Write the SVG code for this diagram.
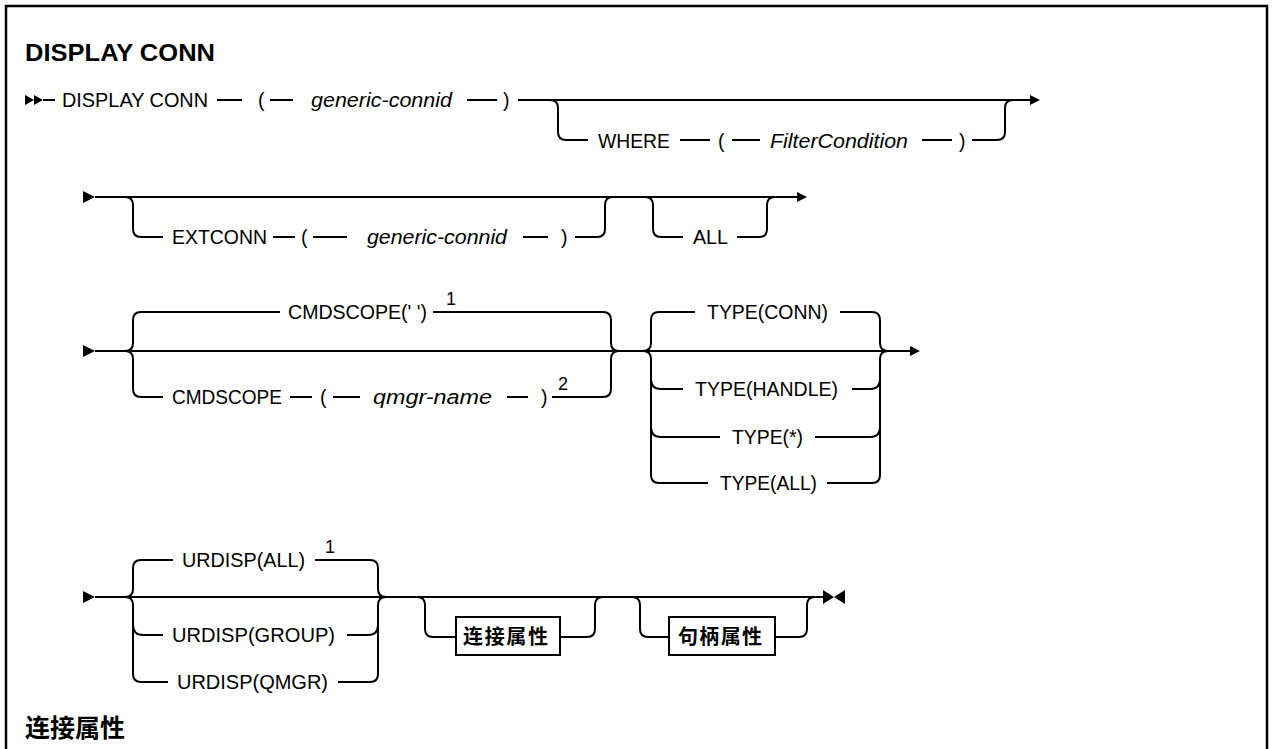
<svg xmlns="http://www.w3.org/2000/svg" width="1274" height="749" viewBox="0 0 1274 749">
<style>
.t{font-family:"Liberation Sans",Arial,sans-serif;font-size:19.5px;fill:#000}
.i{font-family:"Liberation Sans",Arial,sans-serif;font-size:19.5px;font-style:italic;fill:#000}
.fn{font-family:"Liberation Sans",Arial,sans-serif;font-size:18px;fill:#000}
.h{font-family:"Liberation Sans",Arial,sans-serif;font-size:24.5px;font-weight:bold;fill:#000}
.cj{font-family:"Noto Sans CJK SC",sans-serif;font-weight:bold;fill:#000}
.l{fill:none;stroke:#000;stroke-width:2}
.a{fill:#000;stroke:none}
.bx{fill:#fff;stroke:#000;stroke-width:2}
</style>
<rect x="0" y="0" width="1274" height="749" fill="#fff"/>
<rect x="6" y="6" width="1261" height="770" fill="none" stroke="#000" stroke-width="2.5"/>
<g id="title"><text class="h" x="25" y="61" textLength="190" lengthAdjust="spacingAndGlyphs">DISPLAY CONN</text></g>
<g id="connectors">
<polygon class="a" points="25,95 34,100 25,105"/>
<polygon class="a" points="34,95 43,100 34,105"/>
<path class="l" d="M43 100 H55 M217 100 H242 M270 100 H293 M467 100 H497 M518 100 H1030"/>
<path class="l" d="M550 100 Q558 100 558 108 V132 Q558 140 566 140 H588 M680 140 H710 M732 140 H760 M922 140 H952 M972 140 H997 Q1005 140 1005 132 V108 Q1005 100 1013 100"/>
<polygon class="a" points="1030,95 1040,100 1030,105"/>
<polygon class="a" points="83,191 95,197 83,203"/>
<path class="l" d="M95 197 H797"/>
<path class="l" d="M125 197 Q133 197 133 205 V229 Q133 237 141 237 H163 M273 237 H295 M313 237 H347 M523 237 H548 M575 237 H597 Q605 237 605 229 V205 Q605 197 613 197"/>
<path class="l" d="M645 197 Q653 197 653 205 V229 Q653 237 661 237 H683 M737 237 H759 Q767 237 767 229 V205 Q767 197 775 197"/>
<polygon class="a" points="797,192 807,197 797,202"/>
<polygon class="a" points="83,345 95,351 83,357"/>
<path class="l" d="M95 351 H910"/>
<path class="l" d="M125 351 Q133 351 133 343 V320 Q133 312 141 312 H280 M433 312 H603 Q611 312 611 320 V343 Q611 351 619 351"/>
<path class="l" d="M125 351 Q133 351 133 359 V389 Q133 397 141 397 H163 M290 397 H312 M333 397 H360 M507 397 H528 M552 397 H603 Q611 397 611 389 V359 Q611 351 619 351"/>
<path class="l" d="M643 351 Q651 351 651 343 V320 Q651 312 659 312 H695 M840 312 H872 Q880 312 880 320 V343 Q880 351 888 351"/>
<path class="l" d="M643 351 Q651 351 651 359 V475 Q651 483 659 483 H708 M827 483 H872 Q880 483 880 475 V359 Q880 351 888 351"/>
<path class="l" d="M651 379 Q651 389 661 389 H683 M852 389 H870 Q880 389 880 379"/>
<path class="l" d="M651 427 Q651 437 661 437 H720 M815 437 H870 Q880 437 880 427"/>
<polygon class="a" points="910,346 920,351 910,356"/>
<polygon class="a" points="83,591 95,597 83,603"/>
<path class="l" d="M95 597 H823"/>
<path class="l" d="M125 597 Q133 597 133 589 V568 Q133 560 141 560 H173 M315 560 H370 Q378 560 378 568 V589 Q378 597 386 597"/>
<path class="l" d="M125 597 Q133 597 133 605 V674 Q133 682 141 682 H168 M338 682 H370 Q378 682 378 674 V605 Q378 597 386 597"/>
<path class="l" d="M133 625 Q133 635 143 635 H163 M347 635 H368 Q378 635 378 625"/>
<path class="l" d="M417 597 Q425 597 425 605 V629 Q425 637 433 637 H456 M560 637 H587 Q595 637 595 629 V605 Q595 597 603 597"/>
<path class="l" d="M632 597 Q640 597 640 605 V629 Q640 637 648 637 H669 M775 637 H799 Q807 637 807 629 V605 Q807 597 815 597"/>
<polygon class="a" points="823,590 834,597 823,604"/>
<polygon class="a" points="845,590 834,597 845,604"/>
</g>
<g id="n-display"><text class="t" x="62" y="107" textLength="146" lengthAdjust="spacingAndGlyphs">DISPLAY CONN</text></g>
<g id="n-lp1"><text class="t" x="258" y="107">(</text></g>
<g id="n-connid"><text class="i" x="311" y="107" textLength="141" lengthAdjust="spacingAndGlyphs">generic-connid</text></g>
<g id="n-rp1"><text class="t" x="503" y="107">)</text></g>
<g id="n-where"><text class="t" x="598" y="148" textLength="72" lengthAdjust="spacingAndGlyphs">WHERE</text></g>
<g id="n-lp2"><text class="t" x="718" y="148">(</text></g>
<g id="n-filter"><text class="i" x="770" y="148" textLength="138" lengthAdjust="spacingAndGlyphs">FilterCondition</text></g>
<g id="n-rp2"><text class="t" x="959" y="148">)</text></g>
<g id="n-extconn"><text class="t" x="172" y="244" textLength="95" lengthAdjust="spacingAndGlyphs">EXTCONN</text></g>
<g id="n-lp3"><text class="t" x="301" y="244">(</text></g>
<g id="n-connid2"><text class="i" x="367" y="244" textLength="140" lengthAdjust="spacingAndGlyphs">generic-connid</text></g>
<g id="n-rp3"><text class="t" x="561" y="244">)</text></g>
<g id="n-all"><text class="t" x="693" y="244" textLength="35" lengthAdjust="spacingAndGlyphs">ALL</text></g>
<g id="n-cmdscope1"><text class="t" x="288" y="319" textLength="139" lengthAdjust="spacingAndGlyphs">CMDSCOPE(' ')</text><text class="fn" x="446" y="305">1</text></g>
<g id="n-cmdscope2"><text class="t" x="172" y="404" textLength="110" lengthAdjust="spacingAndGlyphs">CMDSCOPE</text></g>
<g id="n-lp4"><text class="t" x="320" y="404">(</text></g>
<g id="n-qmgr"><text class="i" x="373" y="404" textLength="119" lengthAdjust="spacingAndGlyphs">qmgr-name</text></g>
<g id="n-rp4"><text class="t" x="541" y="404">)</text><text class="fn" x="558" y="390">2</text></g>
<g id="n-typeconn"><text class="t" x="707" y="319" textLength="121" lengthAdjust="spacingAndGlyphs">TYPE(CONN)</text></g>
<g id="n-typehandle"><text class="t" x="695" y="396" textLength="143" lengthAdjust="spacingAndGlyphs">TYPE(HANDLE)</text></g>
<g id="n-typestar"><text class="t" x="732" y="444" textLength="71" lengthAdjust="spacingAndGlyphs">TYPE(*)</text></g>
<g id="n-typeall"><text class="t" x="720" y="490" textLength="97" lengthAdjust="spacingAndGlyphs">TYPE(ALL)</text></g>
<g id="n-urall"><text class="t" x="182" y="567" textLength="123" lengthAdjust="spacingAndGlyphs">URDISP(ALL)</text><text class="fn" x="325" y="553">1</text></g>
<g id="n-urgroup"><text class="t" x="172" y="642" textLength="163" lengthAdjust="spacingAndGlyphs">URDISP(GROUP)</text></g>
<g id="n-urqmgr"><text class="t" x="177" y="689" textLength="151" lengthAdjust="spacingAndGlyphs">URDISP(QMGR)</text></g>
<g id="n-box1"><rect class="bx" x="456" y="617" width="104" height="38"/><text class="cj" x="463" y="644" font-size="20" textLength="85">连接属性</text></g>
<g id="n-box2"><rect class="bx" x="669" y="617" width="106" height="38"/><text class="cj" x="678" y="644" font-size="20" textLength="84">句柄属性</text></g>
<g id="heading2"><text class="cj" x="25" y="737" font-size="25">连接属性</text></g>
</svg>
